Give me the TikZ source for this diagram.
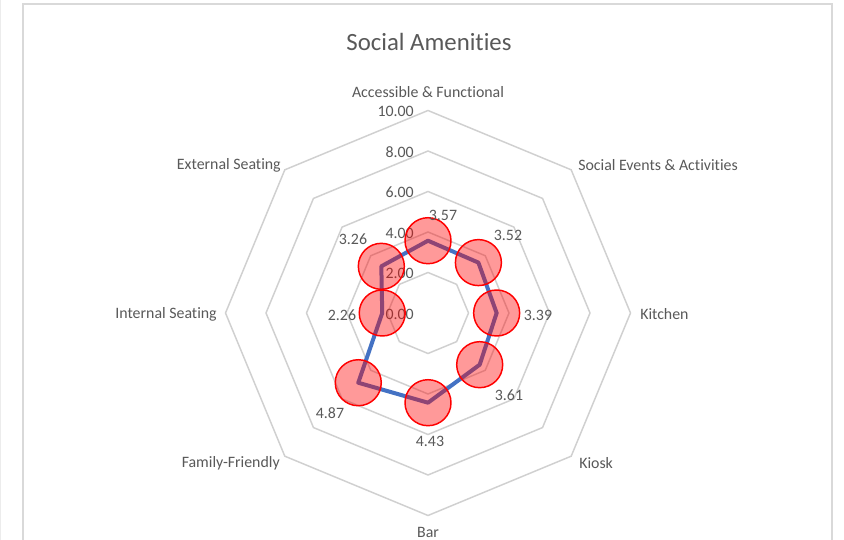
\documentclass[tikz,border=0pt]{standalone}
\usepackage{fontspec}
\setmainfont{Carlito}[Ligatures=NoCommon]
\usepackage{xcolor}

\definecolor{txtgray}{HTML}{595959}
\definecolor{gridgray}{HTML}{D0D0D0}
\definecolor{framegray}{HTML}{D9D9D9}
\definecolor{seriesblue}{HTML}{4472C4}

\tikzset{
	lbl/.style={text=txtgray, font=\fontsize{11.9}{14}\selectfont, inner sep=0pt},
	ring/.style={draw=gridgray, line width=1.1pt},
	series/.style={draw=seriesblue, line width=3pt, line join=round},
	marker/.style={circle, draw=red, fill=red, fill opacity=0.4, line width=1.1pt, minimum size=34.5pt, inner sep=0pt}
}

\begin{document}
\begin{tikzpicture}[x=0.75pt, y=0.75pt]
	\useasboundingbox (0,0) rectangle (844,540);
	\fill[white] (0,0) rectangle (844,540);
	\draw[framegray!50, line width=0.8pt] (0.5,0) -- (0.5,540);
	\draw[framegray, line width=1.6pt] (23,-5) -- (23,536) -- (832,536) -- (832,-5);
	
	\node[lbl, font=\fontsize{18.6}{22}\selectfont] (title) at (429,498) {Social Amenities};
	
	\begin{scope}[shift={(428,227)}]
		\foreach \v in {2,4,...,10}
			\draw[ring] (90:\v*20.25) -- (45:\v*20.25) -- (0:\v*20.25) -- (-45:\v*20.25) -- (-90:\v*20.25) -- (-135:\v*20.25) -- (180:\v*20.25) -- (135:\v*20.25) -- cycle;
		
		\foreach \val [count=\i] in {3.57,3.52,3.39,3.61,4.43,4.87,2.26,3.26}
			\coordinate (d\i) at ({90-45*(\i-1)}:\val*20.25);
		
		\foreach \v in {0,2,...,10}
			\node[lbl, anchor=east] (tick\v) at (-14,\v*20.25-1) {\v.00};
	\end{scope}
	
	\draw[series] (d1) -- (d2) -- (d3) -- (d4) -- (d5) -- (d6) -- (d7) -- (d8) -- cycle;
	\foreach \i in {1,...,8}
		\node[marker] (m\i) at (d\i) {};
	
	\node[lbl] (v1) at (443,325) {3.57};
	\node[lbl] (v2) at (508,305) {3.52};
	\node[lbl] (v3) at (538,225) {3.39};
	\node[lbl] (v4) at (509,145) {3.61};
	\node[lbl] (v5) at (430,99) {4.43};
	\node[lbl] (v6) at (330,127) {4.87};
	\node[lbl] (v7) at (342,225) {2.26};
	\node[lbl] (v8) at (353,301) {3.26};
	
	\node[lbl] (access) at (428,448) {Accessible \& Functional};
	\node[lbl, anchor=west] (events) at (578,375) {Social Events \& Activities};
	\node[lbl, anchor=west] (kitchen) at (640,226) {Kitchen};
	\node[lbl, anchor=west] (kiosk) at (579,77) {Kiosk};
	\node[lbl, anchor=south] (bar) at (428,2) {Bar};
	\node[lbl, anchor=east] (family) at (280,77) {Family-Friendly};
	\node[lbl, anchor=east] (internal) at (217,226) {Internal Seating};
	\node[lbl, anchor=east] (external) at (281,375) {External Seating};
\end{tikzpicture}
\end{document}
